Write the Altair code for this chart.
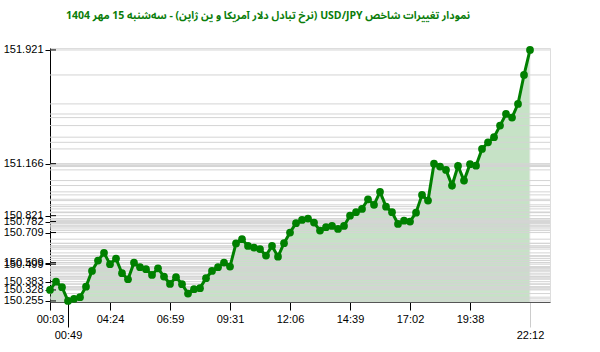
import altair as alt
import pandas as pd

values = [150.328, 150.383, 150.346, 150.255, 150.269, 150.280, 150.350, 150.454, 150.523, 150.574,
          150.499, 150.536, 150.439, 150.399, 150.509, 150.479, 150.466, 150.428, 150.472, 150.417,
          150.368, 150.413, 150.366, 150.304, 150.333, 150.340, 150.406, 150.454, 150.479, 150.510,
          150.483, 150.637, 150.665, 150.620, 150.609, 150.599, 150.556, 150.620, 150.549, 150.638,
          150.709, 150.771, 150.793, 150.802, 150.775, 150.722, 150.745, 150.753, 150.733, 150.753,
          150.821, 150.844, 150.866, 150.930, 150.893, 150.979, 150.881, 150.844, 150.766, 150.788,
          150.782, 150.841, 150.959, 150.921, 151.166, 151.147, 151.125, 151.021, 151.151, 151.054,
          151.163, 151.153, 151.264, 151.308, 151.342, 151.419, 151.496, 151.472, 151.563, 151.755,
          151.921]
index = list(range(len(values)))

tick_idx = [0, 3, 10, 20, 30, 40, 50, 60, 70, 80]
tick_labels = ["00:03", "00:49", "04:24", "06:59", "09:31", "12:06", "14:39", "17:02", "19:38", "22:12"]
y_ticks = [151.921, 151.166, 150.821, 150.782, 150.709, 150.509, 150.499, 150.383, 150.328, 150.255]

title_text = "نمودار تغییرات شاخص USD/JPY (نرخ تبادل دلار آمریکا و ین ژاپن) - سه‌شنبه  15 مهر 1404"

df = pd.DataFrame({"i": index, "v": values})
ydf = pd.DataFrame({"v": y_ticks})

label_expr = ""
for k, lab in zip(tick_idx, tick_labels):
    label_expr += f"datum.value == {k} ? '{lab}' : "
label_expr += "''"

special = "datum.value == 3 || datum.value == 80"

x_scale = alt.Scale(domain=[0, 83.33], nice=False, zero=False)
y_scale = alt.Scale(domain=[150.248, 151.934], nice=False, zero=False)

x_axis = alt.Axis(
    values=tick_idx, labelExpr=label_expr, title=None, grid=False,
    labelFont="Liberation Sans", labelFontSize=11, labelColor="#000",
    labelOverlap=False, labelFlush=False,
    domainColor="#555", tickColor={"condition": {"test": "datum.value == 80", "value": "#cccccc"}, "value": "#000"},
    tickSize={"condition": {"test": special, "value": 25}, "value": 8},
    labelPadding={"condition": {"test": special, "value": 2}, "value": 3},
)
y_axis = alt.Axis(
    values=y_ticks, format=".3f", title=None, grid=False,
    labelFont="Liberation Sans", labelFontSize=11, labelColor="#000",
    labelOverlap=False, labelFlush=False, labelBound=False, domainColor="#000", tickColor="#000",
    tickSize=5, labelPadding=2,
)

base = alt.Chart(df)

area = base.mark_area(color="#008000", opacity=0.22, stroke="#bbbbbb", strokeWidth=1,
                      strokeOpacity=1, clip=True).encode(
    x=alt.X("i:Q", scale=x_scale, axis=x_axis),
    y=alt.Y("v:Q", scale=y_scale, axis=y_axis),
)

grid = base.mark_rule(color="#d4d4d4", strokeWidth=1).encode(
    y=alt.Y("v:Q", scale=y_scale, axis=y_axis)
)

inner_ticks = alt.Chart(ydf).mark_rule(color="#000", strokeWidth=1).encode(
    y=alt.Y("v:Q", scale=y_scale, axis=y_axis),
    x=alt.value(0), x2=alt.value(6),
)

line = base.mark_line(color="#008000", strokeWidth=3).encode(
    x=alt.X("i:Q", scale=x_scale, axis=x_axis),
    y=alt.Y("v:Q", scale=y_scale, axis=y_axis),
)
pts = base.mark_circle(color="#008000", size=60, opacity=1).encode(
    x=alt.X("i:Q", scale=x_scale, axis=x_axis),
    y=alt.Y("v:Q", scale=y_scale, axis=y_axis),
)

chart = alt.layer(area, grid, inner_ticks, line, pts).properties(
    width=500, height=254,
    title=alt.TitleParams(
        text="\u202b" + title_text + "\u202c",
        font="Noto Sans Arabic, DejaVu Sans", fontSize=10.5, fontWeight="bold", color="#0a7d0a",
        anchor="middle", offset=22, dx=-32,
    ),
    autosize=alt.AutoSizeParams(type="none"),
    padding={"left": 50, "top": 48, "right": 50, "bottom": 50},
).configure_view(stroke=None).configure(background="white")

chart.save("out.html", embed_options={"renderer": "svg", "actions": False})
